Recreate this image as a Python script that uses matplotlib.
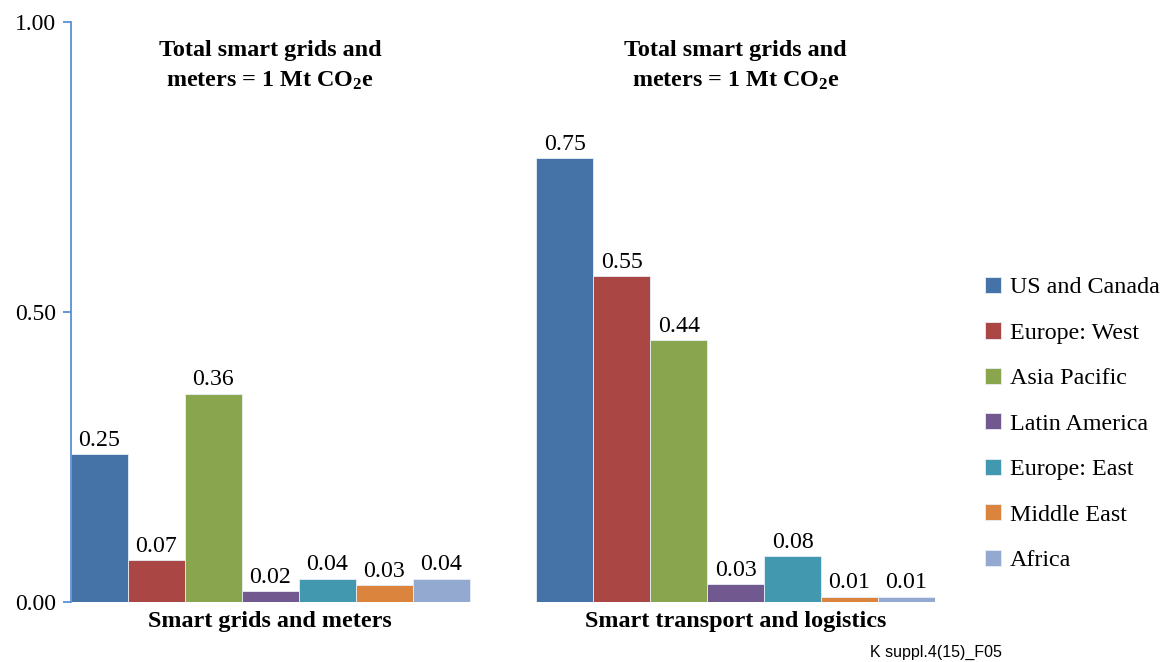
import matplotlib
matplotlib.use('Agg')
import matplotlib.pyplot as plt
import numpy as np

plt.rcParams['font.family'] = ['Liberation Serif', 'DejaVu Serif']
plt.rcParams['mathtext.default'] = 'regular'

# 数据
regions = ['US and Canada', 'Europe: West', 'Asia Pacific', 'Latin America',
           'Europe: East', 'Middle East', 'Africa']
colors = ['#4572A7', '#AA4643', '#89A54E', '#71588F', '#4198AF', '#DB843D', '#93A9CF']
groups = ['Smart grids and meters', 'Smart transport and logistics']
grid_vals = [0.255, 0.072, 0.359, 0.019, 0.040, 0.029, 0.040]
grid_labels = ['0.25', '0.07', '0.36', '0.02', '0.04', '0.03', '0.04']
trans_vals = [0.765, 0.562, 0.451, 0.031, 0.079, 0.009, 0.009]
trans_labels = ['0.75', '0.55', '0.44', '0.03', '0.08', '0.01', '0.01']
titles = ['Total smart grids and\nmeters = 1 Mt CO$_2$e',
          'Total smart grids and\nmeters = 1 Mt CO$_2$e']

fig = plt.figure(figsize=(11.62, 6.62), dpi=100)
ax = fig.add_axes([0.0611, 0.0906, 0.7435, 0.876])

axis_col = '#5b8fd6'
n = len(regions)
starts = [0.0, 8.17]  # 每组起点
for g, (vals, labs) in enumerate([(grid_vals, grid_labels), (trans_vals, trans_labels)]):
    x = starts[g] + np.arange(n)
    for i in range(n):
        ax.bar(x[i], vals[i], width=1.0, align='edge', color=colors[i],
               edgecolor='#e8eef7', linewidth=0.6,
               label=regions[i] if g == 0 else None)
        ax.text(x[i] + 0.5, vals[i] + 0.006, labs[i], ha='center', va='bottom', fontsize=17.2)
    cx = starts[g] + n / 2
    ax.text(cx, -0.016, groups[g], ha='center', va='top', fontsize=17.4, fontweight='bold')
    ax.text(cx, 0.97, titles[g], ha='center', va='top', fontsize=17.4, fontweight='bold',
            linespacing=1.55)

ax.set_xlim(0, starts[1] + n)
ax.set_ylim(0, 1.0)
ax.set_yticks([0, 0.5, 1.0])
ax.set_yticklabels(['0.00', '0.50', '1.00'], fontsize=17)
ax.set_xticks([])
for s in ['top', 'right', 'bottom']:
    ax.spines[s].set_visible(False)
ax.spines['left'].set_color(axis_col)
ax.spines['left'].set_linewidth(1.3)
ax.tick_params(axis='y', colors=axis_col, length=5.5, width=1.3, labelcolor='black', pad=5)
ax.spines['left'].set_bounds(0, 1.0)

ax.legend(loc='upper left', bbox_to_anchor=(985 / 1162, 1 - 277 / 662),
          bbox_transform=fig.transFigure, frameon=False, fontsize=17.3,
          handlelength=0.65, handleheight=0.65, handletextpad=0.4,
          labelspacing=1.0, borderpad=0, borderaxespad=0)

fig.text(870 / 1162, 1 - 652 / 662, 'K suppl.4(15)_F05', fontsize=11.5,
         family=['Liberation Sans', 'DejaVu Sans'], va='center', ha='left')

fig.savefig('out.png', dpi=100)
